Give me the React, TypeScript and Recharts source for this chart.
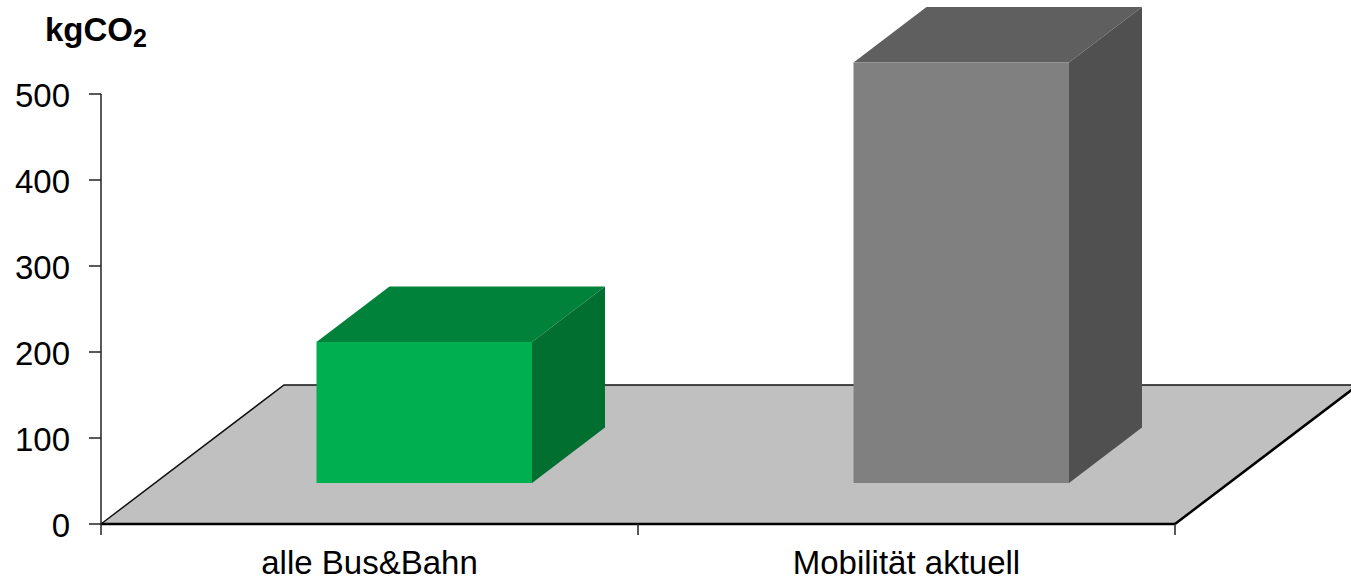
import React from "react";
import { Bar, BarChart, ReferenceArea, XAxis, YAxis } from "recharts";

const categories = ["alle Bus&Bahn", "Mobilität aktuell"];
const emissions = [164, 489];
const yTicks = [0, 100, 200, 300, 400, 500];
const edgeTicks = [0, 1, 2];

const data = categories.map((name, i) => ({ name, value: emissions[i], edge: i }));

const FONT = '"Liberation Sans", Arial, sans-serif';

// front, top and side shades of each box
const faces = [
  { front: "#00B050", top: "#00823B", side: "#006F2F" },
  { front: "#808080", top: "#5F5F5F", side: "#505050" },
];

const Floor = (props: any) => {
  const { x, width, y, height } = props;
  const bottom = y + height;
  const right = x + width;
  const dx = 183;
  const dy = -139;
  return (
    <g>
      <polygon
        points={`${x},${bottom} ${x + dx},${bottom + dy} ${right + dx},${bottom + dy} ${right},${bottom}`}
        fill="#C0C0C0"
      />
      <polyline
        points={`${x},${bottom} ${x + dx},${bottom + dy} ${right + dx},${bottom + dy}`}
        fill="none"
        stroke="#111"
        strokeWidth={1.5}
      />
      <line x1={right} y1={bottom} x2={right + dx} y2={bottom + dy} stroke="#000" strokeWidth={2.5} />
    </g>
  );
};

// Excel style 3D box, lifted off the axis onto the floor
const Box = (props: any) => {
  const { x, y, width, height, index } = props;
  const c = faces[index];
  const left = x + 54.5;
  const right = left + width;
  const top = y - 41;
  const bottom = top + height;
  const dx = 73;
  const dy = -55.5;
  return (
    <g>
      <polygon points={`${left},${top} ${left + dx},${top + dy} ${right + dx},${top + dy} ${right},${top}`} fill={c.top} />
      <polygon points={`${right},${top} ${right + dx},${top + dy} ${right + dx},${bottom + dy} ${right},${bottom}`} fill={c.side} />
      <rect x={left} y={top} width={width} height={height} fill={c.front} />
    </g>
  );
};

export default function App() {
  return (
    <div style={{ position: "absolute", left: 0, top: 0, width: 1351, height: 581 }}>
      <BarChart
        width={1351}
        height={581}
        data={data}
        margin={{ top: 94, right: 176, bottom: 0, left: 0 }}
        barSize={215.5}
        style={{ fontFamily: FONT }}
      >
        <XAxis
          xAxisId="edges"
          type="number"
          dataKey="edge"
          domain={[0, 2]}
          ticks={edgeTicks}
          height={1}
          tickSize={11}
          tickFormatter={() => ""}
          axisLine={{ stroke: "#000", strokeWidth: 2.5 }}
          tickLine={{ stroke: "#222", strokeWidth: 1.5 }}
        />
        <XAxis
          xAxisId="names"
          dataKey="name"
          height={56}
          axisLine={false}
          tickLine={false}
          tickMargin={20}
          interval={0}
          tick={{ fontSize: 33, fill: "#000", fontFamily: FONT }}
        />
        <YAxis
          width={101}
          domain={[0, 500]}
          ticks={yTicks}
          tickSize={12}
          tickMargin={19}
          axisLine={{ stroke: "#222", strokeWidth: 1.5 }}
          tickLine={{ stroke: "#222", strokeWidth: 1.5 }}
          tick={{ fontSize: 33, fill: "#000", fontFamily: FONT, dy: 1 }}
        />
        <ReferenceArea xAxisId="names" y1={0} y2={500} ifOverflow="visible" shape={Floor} />
        <Bar xAxisId="names" dataKey="value" shape={Box} isAnimationActive={false} />
        <text x={45} y={41} fontSize={33} fontWeight="bold" fontFamily={FONT} fill="#000">
          kgCO
          <tspan fontSize={25} dy={6}>
            2
          </tspan>
        </text>
      </BarChart>
    </div>
  );
}
